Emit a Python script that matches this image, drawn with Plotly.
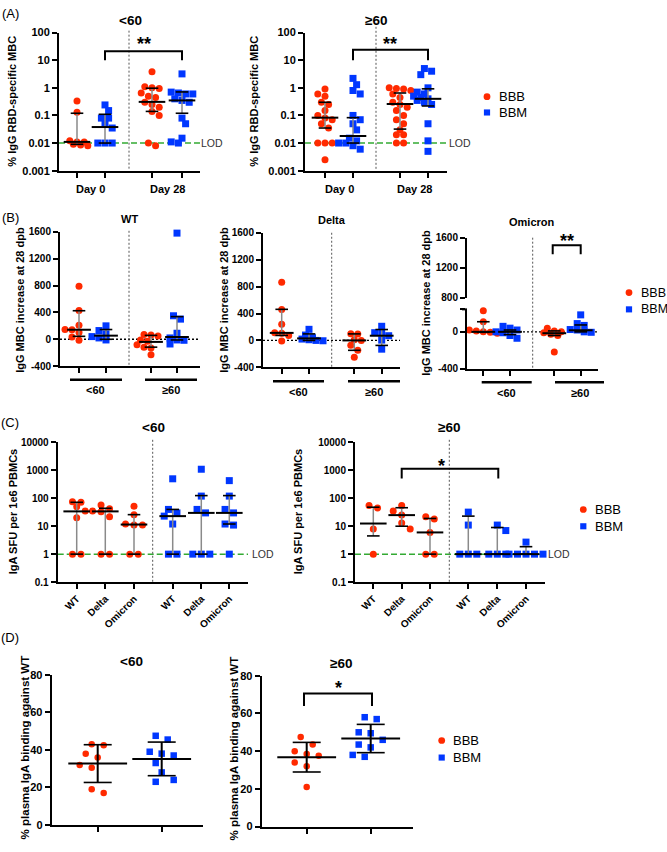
import math
import plotly.graph_objects as go

W, H = 667, 852
FONT = "Liberation Sans, Arial, Helvetica, sans-serif"
RED, BLUE, GREEN = "#FF2A00", "#0037FF", "#33AA33"

# ============================ DATA ============================
series_names = ["BBB", "BBM"]
age_groups = ["<60", "≥60"]

# (A) % IgG RBD-specific MBC  (order of stats: Day0 BBB, Day0 BBM, Day28 BBB, Day28 BBM)
A_days = ["Day 0", "Day 28"]
A_lt60_day0_BBB = [0.33, 0.13, 0.012, 0.011, 0.011, 0.009, 0.008, 0.0085]
A_lt60_day0_BBM = [0.24, 0.15, 0.08, 0.08, 0.05, 0.035, 0.01, 0.01, 0.01]
A_lt60_day28_BBB = [3.8, 1.1, 1.0, 0.95, 0.65, 0.5, 0.45, 0.3, 0.25, 0.2, 0.14, 0.1, 0.01, 0.008]
A_lt60_day28_BBM = [3.2, 0.7, 0.65, 0.6, 0.6, 0.4, 0.35, 0.3, 0.08, 0.05, 0.015, 0.011, 0.01]
A_lt60_median = [0.011, 0.038, 0.31, 0.35]
A_lt60_q1 = [0.009, 0.01, 0.14, 0.12]
A_lt60_q3 = [0.12, 0.11, 0.97, 0.71]

A_ge60_day0_BBB = [0.9, 0.6, 0.5, 0.3, 0.25, 0.15, 0.1, 0.08, 0.07, 0.05, 0.035, 0.01, 0.01, 0.01, 0.0025]
A_ge60_day0_BBM = [2.2, 1.3, 0.8, 0.6, 0.1, 0.07, 0.05, 0.03, 0.015, 0.012, 0.01, 0.01, 0.008, 0.006]
A_ge60_day28_BBB = [1.0, 0.95, 0.9, 0.8, 0.6, 0.45, 0.3, 0.25, 0.2, 0.15, 0.1, 0.07, 0.05, 0.03,
                    0.02, 0.02, 0.01, 0.01]
A_ge60_day28_BBM = [5.0, 4.0, 3.0, 1.0, 0.7, 0.6, 0.5, 0.45, 0.4, 0.35, 0.3, 0.25, 0.05, 0.012, 0.005]
A_ge60_median = [0.083, 0.018, 0.26, 0.4]
A_ge60_q1 = [0.035, 0.01, 0.032, 0.22]
A_ge60_q3 = [0.3, 0.083, 0.65, 0.92]

A_LOD = 0.01
A_yticks = [0.001, 0.01, 0.1, 1, 10, 100]
A_yticktext = ["0.001", "0.01", "0.1", "1", "10", "100"]

# (B) IgG MBC increase at 28 dpb (stats order: <60 BBB, <60 BBM, >=60 BBB, >=60 BBM)
B_variants = ["WT", "Delta", "Omicron"]
B_WT_lt60_BBB = [790, 430, 210, 145, 140, 100, 35, -15]
B_WT_lt60_BBM = [200, 130, 80, 40, 20, -10]
B_WT_ge60_BBB = [70, 65, 50, -10, -30, -80, -120, -130, -230]
B_WT_ge60_BBM = [1580, 350, 300, 90, 20, -10, -15, -70]
B_WT_median = [142, 54, -39, 34]
B_WT_q1 = [44, 0, -117, -10]
B_WT_q3 = [425, 145, 58, 337]

B_Delta_lt60_BBB = [865, 460, 240, 115, 105, 75, -10]
B_Delta_lt60_BBM = [165, 80, 40, 20, 10, 0, -5]
B_Delta_ge60_BBB = [100, 95, 10, 0, -70, -145, -250]
B_Delta_ge60_BBM = [210, 115, 110, 70, 5, -130]
B_Delta_median = [112, 30, 0, 70]
B_Delta_q1 = [74, 0, -147, -74]
B_Delta_q3 = [462, 97, 97, 162]

B_Omicron_lt60_BBB = [230, 110, 20, 10, 0, -5, -15]
B_Omicron_lt60_BBM = [60, 40, 20, 0, -10, -40, -70]
B_Omicron_ge60_BBB = [40, 10, 0, -10, -25, -40, -220]
B_Omicron_ge60_BBM = [185, 90, 70, 25, 20, 0, -5]
B_Omicron_median = [0, 0, -15, 17]
B_Omicron_q1 = [-5, -30, -40, 0]
B_Omicron_q3 = [110, 20, 10, 75]

B_yticks = [-400, 0, 400, 800, 1200, 1600]
B_omicron_lower_ticks = [-400, 0]
B_omicron_upper_ticks = [800, 1200, 1600]

# (C) IgA SFU per 1e6 PBMCs (stats order: BBB WT, Delta, Omicron, BBM WT, Delta, Omicron)
C_variants = ["WT", "Delta", "Omicron"]
C_lt60_BBB_WT = [75, 72, 50, 35, 20, 1, 1]
C_lt60_BBB_Delta = [57, 42, 35, 33, 22, 1, 1]
C_lt60_BBB_Omicron = [52, 26, 12, 11, 11, 1, 1]
C_lt60_BBM_WT = [500, 40, 30, 23, 12, 1, 1]
C_lt60_BBM_Delta = [1100, 120, 40, 30, 1, 1, 1]
C_lt60_BBM_Omicron = [430, 120, 40, 30, 12, 11, 1]
C_lt60_median = [34, 34, 11.5, 23, 30, 30]
C_lt60_q1 = [1, 1, 1, 1, 1, 12]
C_lt60_q3 = [72, 44, 26, 40, 125, 125]

C_ge60_BBB_WT = [55, 45, 8, 1]
C_ge60_BBB_Delta = [55, 35, 25, 13, 8]
C_ge60_BBB_Omicron = [22, 18, 6, 1, 1]
C_ge60_BBM_WT = [32, 11, 1, 1, 1]
C_ge60_BBM_Delta = [11, 7, 1, 1, 1]
C_ge60_BBM_Omicron = [2.7, 1, 1, 1, 1, 1]
C_ge60_median = [12.5, 25, 6, 1, 1, 1]
C_ge60_q1 = [4.5, 10, 1, 1, 1, 1]
C_ge60_q3 = [48, 46, 19, 23, 9, 1.85]

C_LOD = 1
C_yticks = [0.1, 1, 10, 100, 1000, 10000]
C_yticktext = ["0.1", "1", "10", "100", "1000", "10000"]

# (D) % plasma IgA binding against WT (mean, SD; order BBB, BBM)
D_lt60_BBB = [43, 42.5, 38, 36, 32, 30.5, 19, 17]
D_lt60_BBM = [47.5, 45.5, 39, 38, 37, 33, 28, 24, 23]
D_ge60_BBB = [47.5, 43.5, 40, 38.5, 37.5, 34, 32, 21]
D_ge60_BBM = [58, 57, 50, 49.5, 46, 43.5, 42, 38, 37]
D_lt60_mean = [32.7, 35.2]
D_lt60_sd = [10.05, 8.95]
D_ge60_mean = [36.8, 46.7]
D_ge60_sd = [7.85, 7.5]
D_yticks = [0, 20, 40, 60, 80]

# ============================ LAYOUT GEOMETRY (pixels) ============================
GEO = {
    "A1": dict(x=(59, 200), y=(27, 167), yr=(-3, 2), log=True, xt=(77, 105, 152, 182)),
    "A2": dict(x=(305, 447), y=(27, 167), yr=(-3, 2), log=True, xt=(325, 353, 400, 428)),
    "B1": dict(x=(60, 200), y=(229, 365.3), yr=(-400, 1600), log=False, xt=(79, 106, 151, 177)),
    "B2": dict(x=(263, 400), y=(230, 366.5), yr=(-400, 1600), log=False, xt=(281.7, 309, 354.3, 381.7)),
    "B3": dict(x=(467, 598), y=(307.7, 367.7), yr=(-400, 245), log=False, xt=(483.3, 510, 554.3, 580.7)),
    "B3u": dict(y=(235, 296), yr=(800, 1600), log=False),
    "C1": dict(x=(57.7, 248), y=(442.7, 584.3), yr=(-1, 4), log=True,
               xt=(76.7, 105.3, 134, 172.7, 201.3, 229.3)),
    "C2": dict(x=(355, 545), y=(442.7, 584.3), yr=(-1, 4), log=True,
               xt=(373.3, 401.7, 430, 468.3, 497.3, 526)),
    "D1": dict(x=(51.7, 203.3), y=(678.3, 830.7), yr=(0, 80), log=False, xt=(97.7, 161.7)),
    "D2": dict(x=(261.7, 412.7), y=(679.3, 832.3), yr=(0, 80), log=False, xt=(306.7, 370.7)),
}


def xn(i):
    return "x" if i == 1 else f"x{i}"


def yn(i):
    return "y" if i == 1 else f"y{i}"


def lk(p, i):
    return f"{p}axis" if i == 1 else f"{p}axis{i}"


def ymap(key, v):
    g = GEO[key]
    top, bot = g["y"]
    r0, r1 = g["yr"]
    f = math.log10(v) if g["log"] else v
    return bot - (f - r0) / (r1 - r0) * (bot - top)


def swarm(ypx, d, thr):
    """Deterministic scatter-dot arrangement: near-equal values share a centred row;
    each row is nudged sideways (half steps) to limit overlap with rows already placed."""
    order = sorted(range(len(ypx)), key=lambda i: ypx[i])
    rows = []
    for i in order:
        if rows and abs(ypx[i] - ypx[rows[-1][0]]) < thr * d:
            rows[-1].append(i)
        else:
            rows.append([i])
    off = [0.0] * len(ypx)
    placed = []
    shifts = [0, d / 2, -d / 2, d, -d]
    for row in rows:
        k = len(row)
        base = [(j - (k - 1) / 2) * d for j in range(k)]
        best, best_score = 0, -1
        for s in shifts:
            md = min([math.hypot(b + s - px_, ypx[i] - py_)
                      for b, i in zip(base, row) for px_, py_ in placed] or [1e9])
            if md >= 0.9 * d:
                best = s
                break
            if md > best_score + 0.5:
                best, best_score = s, md
        for b, i in zip(base, row):
            off[i] = b + best
            placed.append((b + best, ypx[i]))
    return off


fig = go.Figure()


def add_group(key, xi, yi, xc, vals, color, symbol, size, d, thr=0.8):
    ypx = [ymap(key, v) for v in vals]
    offs = swarm(ypx, d, thr)
    fig.add_trace(go.Scatter(
        x=[xc + o for o in offs], y=vals, mode="markers",
        marker=dict(color=color, symbol=symbol, size=size, line=dict(width=0)),
        xaxis=xn(xi), yaxis=yn(yi), hoverinfo="skip", cliponaxis=False, showlegend=False))


def add_stats(xi, yi, xs, center, lo, hi, wcolor, wwidth, capsize, medsize, medwidth):
    wx, wy = [], []
    for x, a, b in zip(xs, lo, hi):
        wx += [x, x, None]
        wy += [a, b, None]
    fig.add_trace(go.Scatter(x=wx, y=wy, mode="lines", line=dict(color=wcolor, width=wwidth),
                             xaxis=xn(xi), yaxis=yn(yi), hoverinfo="skip", showlegend=False))
    fig.add_trace(go.Scatter(x=list(xs) * 2, y=list(lo) + list(hi), mode="markers",
                             marker=dict(symbol="line-ew", size=capsize, color="black",
                                         line=dict(color="black", width=1.6)),
                             xaxis=xn(xi), yaxis=yn(yi), hoverinfo="skip", cliponaxis=False,
                             showlegend=False))
    fig.add_trace(go.Scatter(x=list(xs), y=list(center), mode="markers",
                             marker=dict(symbol="line-ew", size=medsize, color="black",
                                         line=dict(color="black", width=medwidth)),
                             xaxis=xn(xi), yaxis=yn(yi), hoverinfo="skip", cliponaxis=False,
                             showlegend=False))


def add_ref_line(key, xi, yi, value, color, width, dash):
    g = GEO[key]
    fig.add_trace(go.Scatter(x=list(g["x"]), y=[value, value], mode="lines",
                             line=dict(color=color, width=width, dash=dash),
                             xaxis=xn(xi), yaxis=yn(yi), hoverinfo="skip", showlegend=False,
                             cliponaxis=False))


COLORS = [RED, BLUE]
SYMBOLS = ["circle", "square"]

# ---------------- Panel A ----------------
for key, xi, groups, med, q1, q3 in [
    ("A1", 1, [A_lt60_day0_BBB, A_lt60_day0_BBM, A_lt60_day28_BBB, A_lt60_day28_BBM],
     A_lt60_median, A_lt60_q1, A_lt60_q3),
    ("A2", 2, [A_ge60_day0_BBB, A_ge60_day0_BBM, A_ge60_day28_BBB, A_ge60_day28_BBM],
     A_ge60_median, A_ge60_q1, A_ge60_q3),
]:
    add_ref_line(key, xi, xi, A_LOD, GREEN, 1.5, "6px,3px")
    for j, vals in enumerate(groups):
        add_group(key, xi, xi, GEO[key]["xt"][j], vals, COLORS[j % 2], SYMBOLS[j % 2], 7, 7.2, 0.45)
    add_stats(xi, xi, GEO[key]["xt"], med, q1, q3, "#8a8a8a", 1.5, 9, 19, 2)

# ---------------- Panel B ----------------
B_sets = [
    ("B1", 3, 3, [B_WT_lt60_BBB, B_WT_lt60_BBM, B_WT_ge60_BBB, B_WT_ge60_BBM], B_WT_median, B_WT_q1, B_WT_q3),
    ("B2", 4, 4, [B_Delta_lt60_BBB, B_Delta_lt60_BBM, B_Delta_ge60_BBB, B_Delta_ge60_BBM],
     B_Delta_median, B_Delta_q1, B_Delta_q3),
    ("B3", 5, 5, [B_Omicron_lt60_BBB, B_Omicron_lt60_BBM, B_Omicron_ge60_BBB, B_Omicron_ge60_BBM],
     B_Omicron_median, B_Omicron_q1, B_Omicron_q3),
]
for key, xi, yi, groups, med, q1, q3 in B_sets:
    add_ref_line(key, xi, yi, 0, "black", 1.3, "2px,2px")
    for j, vals in enumerate(groups):
        add_group(key, xi, yi, GEO[key]["xt"][j], vals, COLORS[j % 2], SYMBOLS[j % 2], 7, 7.0, 0.55)
    add_stats(xi, yi, GEO[key]["xt"], med, q1, q3, "#8a8a8a", 1.5, 9, 17, 2)

# upper segment of the broken Omicron axis (no marks, only the axis)
fig.add_trace(go.Scatter(x=[], y=[], mode="markers", xaxis="x5", yaxis="y6",
                         hoverinfo="skip", showlegend=False))

# ---------------- Panel C ----------------
for key, xi, yi, groups, med, q1, q3 in [
    ("C1", 6, 7, [C_lt60_BBB_WT, C_lt60_BBB_Delta, C_lt60_BBB_Omicron,
                  C_lt60_BBM_WT, C_lt60_BBM_Delta, C_lt60_BBM_Omicron], C_lt60_median, C_lt60_q1, C_lt60_q3),
    ("C2", 7, 8, [C_ge60_BBB_WT, C_ge60_BBB_Delta, C_ge60_BBB_Omicron,
                  C_ge60_BBM_WT, C_ge60_BBM_Delta, C_ge60_BBM_Omicron], C_ge60_median, C_ge60_q1, C_ge60_q3),
]:
    add_ref_line(key, xi, yi, C_LOD, GREEN, 1.5, "6px,3px")
    for j, vals in enumerate(groups):
        add_group(key, xi, yi, GEO[key]["xt"][j], vals, COLORS[j // 3], SYMBOLS[j // 3], 7, 8.5, 0.5)
    add_stats(xi, yi, GEO[key]["xt"], med, q1, q3, "#8a8a8a", 1.5, 9, 19, 2)

# ---------------- Panel D ----------------
for key, xi, yi, groups, mean, sd in [
    ("D1", 8, 9, [D_lt60_BBB, D_lt60_BBM], D_lt60_mean, D_lt60_sd),
    ("D2", 9, 10, [D_ge60_BBB, D_ge60_BBM], D_ge60_mean, D_ge60_sd),
]:
    for j, vals in enumerate(groups):
        add_group(key, xi, yi, GEO[key]["xt"][j], vals, COLORS[j], SYMBOLS[j], 6.5, 12, thr=0.75)
    lo = [m - s for m, s in zip(mean, sd)]
    hi = [m + s for m, s in zip(mean, sd)]
    add_stats(xi, yi, GEO[key]["xt"], mean, lo, hi, "black", 2, 20, 42, 2)

# ============================ AXES ============================
AXSTYLE = dict(showline=True, linecolor="black", linewidth=2, ticks="outside", ticklen=5,
               tickwidth=2, tickcolor="black", showgrid=False, zeroline=False, fixedrange=True)


def tfont(sz):
    return dict(family=FONT, size=sz, color="black", weight="bold")


layout_axes = {}


def make_x(key, xi, yi, ticktext=None, angle=None, fs=11):
    g = GEO[key]
    d = dict(domain=[g["x"][0] / W, g["x"][1] / W], range=list(g["x"]), anchor=yn(yi),
             tickmode="array", tickvals=list(g["xt"]),
             ticktext=ticktext if ticktext else [""] * len(g["xt"]), tickfont=tfont(fs), **AXSTYLE)
    if angle is not None:
        d["tickangle"] = angle
    layout_axes[lk("x", xi)] = d


def make_y(key, yi, xi, tickvals, ticktext, fs):
    g = GEO[key]
    d = dict(domain=[1 - g["y"][1] / H, 1 - g["y"][0] / H], range=list(g["yr"]),
             type="log" if g["log"] else "linear", anchor=xn(xi), tickmode="array",
             tickvals=tickvals, ticktext=ticktext, tickfont=tfont(fs), **AXSTYLE)
    layout_axes[lk("y", yi)] = d


make_x("A1", 1, 1); make_y("A1", 1, 1, A_yticks, A_yticktext, 11)
make_x("A2", 2, 2); make_y("A2", 2, 2, A_yticks, A_yticktext, 11)
make_x("B1", 3, 3); make_y("B1", 3, 3, B_yticks, [str(v) for v in B_yticks], 10)
make_x("B2", 4, 4); make_y("B2", 4, 4, B_yticks, [str(v) for v in B_yticks], 10)
make_x("B3", 5, 5)
make_y("B3", 5, 5, B_omicron_lower_ticks + [GEO["B3"]["yr"][1] - 1],
       [str(v) for v in B_omicron_lower_ticks] + [""], 10)
make_y("B3u", 6, 5, B_omicron_upper_ticks, [str(v) for v in B_omicron_upper_ticks], 10)
C_xlabels = C_variants * 2
make_x("C1", 6, 7, C_xlabels, -45, 10); make_y("C1", 7, 6, C_yticks, C_yticktext, 10)
make_x("C2", 7, 8, C_xlabels, -45, 10); make_y("C2", 8, 7, C_yticks, C_yticktext, 10)
make_x("D1", 8, 9); make_y("D1", 9, 8, D_yticks, [str(v) for v in D_yticks], 11)
make_x("D2", 9, 10); make_y("D2", 10, 9, D_yticks, [str(v) for v in D_yticks], 11)

# ============================ DECORATIONS ============================
shapes = []
annotations = []


def px(x):
    return x / W


def py(y):
    return 1 - y / H


def pline(x0, y0, x1, y1, color="black", width=1, dash="solid"):
    shapes.append(dict(type="line", xref="paper", yref="paper", x0=px(x0), y0=py(y0), x1=px(x1),
                       y1=py(y1), line=dict(color=color, width=width, dash=dash)))


def ann(text, x, y, size, bold=False, color="black", angle=0, xanchor="center"):
    annotations.append(dict(text=text, x=px(x), y=py(y), xref="paper", yref="paper", showarrow=False,
                            font=dict(family=FONT, size=size, color=color,
                                      weight="bold" if bold else "normal"),
                            textangle=angle, xanchor=xanchor, yanchor="middle"))


# dotted dividers
for x, y0, y1 in [(129, 25, 167), (376, 13, 167), (129, 228, 365), (331.7, 230, 366.5),
                  (532.7, 235, 367.7), (152.7, 440, 584), (449.3, 440, 584)]:
    pline(x, y0, x, y1, "#555555", 1, "2px,2px")

# lower segment top cap for broken axis
pline(462, 307.7, 467, 307.7, "black", 2)

# group bars (B)
B_bars = [(70, 122, 379), (145, 197, 379), (273, 324, 380.7), (348, 400, 380.7),
          (481.7, 531.7, 381.7), (555, 604, 381.7)]
for i, (x0, x1, y) in enumerate(B_bars):
    pline(x0, y, x1, y, "black", 2.5)
    ann(age_groups[i % 2], (x0 + x1) / 2, y + 10.5, 11, True)

# brackets + significance
for x0, x1, yt, yb in [(105, 182, 46, 55), (353, 428, 44.3, 55), (552.7, 580.7, 242.7, 251.7),
                       (401.7, 498.3, 469.3, 479.3), (304, 372, 697.3, 710)]:
    shapes.append(dict(type="path", xref="paper", yref="paper",
                       path=f"M {px(x0)},{py(yb)} L {px(x0)},{py(yt)} L {px(x1)},{py(yt)} L {px(x1)},{py(yb)}",
                       line=dict(color="black", width=2)))
for txt, x, y in [("**", 143.5, 39), ("**", 390, 39), ("**", 566.7, 238), ("*", 441.7, 467),
                  ("*", 338, 692)]:
    ann(txt, x, y, 18, True)

# LOD labels
for x, y in [(212, 139), (460, 139), (263, 556), (559, 556)]:
    ann("LOD", x, y, 10.5, False, "#333333")

# Day labels (A)
for x, i in [(91, 0), (167, 1), (339, 0), (414, 1)]:
    ann(A_days[i], x, 186, 11, True)

# titles
for t, x, y, s in [("<60", 130, 15, 13.5), ("≥60", 376, 15, 13.5),
                   ("WT", 129, 216, 11), ("Delta", 332, 217, 11), ("Omicron", 532, 219, 11),
                   ("<60", 153, 428, 13.5), ("≥60", 449, 428, 13.5),
                   ("<60", 131.7, 665, 13.5), ("≥60", 341, 667, 13.5)]:
    ann(t, x, y, s, True)

# panel letters
for t, y in [("(A)", 8), ("(B)", 215), ("(C)", 422), ("(D)", 641)]:
    ann(t, 10, y, 13, False)

# y titles
for t, x, y, s in [("% IgG RBD-specific MBC", 12, 97, 11), ("% IgG RBD-specific MBC", 254, 97, 11),
                   ("IgG MBC increase at 28 dpb", 20, 298, 11),
                   ("IgG MBC increase at 28 dpb", 224, 298, 11),
                   ("IgG MBC increase at 28 dpb", 426, 301, 11),
                   ("IgA SFU per 1e6 PBMCs", 12.5, 513, 11), ("IgA SFU per 1e6 PBMCs", 297.5, 513, 11),
                   ("% plasma IgA binding against WT", 25, 752, 11.5),
                   ("% plasma IgA binding against WT", 234, 753, 11.5)]:
    ann(t, x, y, s, True, angle=-90)

# legends
for mx, ys, fs in [(487, (92, 108), 13), (629, (290.7, 307.7), 12.5), (583.3, (510.7, 527.7), 13),
                   (441.7, (745, 762.3), 13)]:
    for j, y in enumerate(ys):
        r = 3.4 if j == 0 else 3.1
        shapes.append(dict(type="circle" if j == 0 else "rect", xref="paper", yref="paper",
                           x0=px(mx - r), x1=px(mx + r), y0=py(y + r), y1=py(y - r),
                           fillcolor=COLORS[j], line=dict(width=0)))
        ann(series_names[j], mx + 9.5, y, fs, False, xanchor="left")

fig.update_layout(
    width=W, height=H, margin=dict(l=0, r=0, t=0, b=0),
    paper_bgcolor="white", plot_bgcolor="rgba(0,0,0,0)",
    showlegend=False, shapes=shapes, annotations=annotations,
    font=dict(family=FONT, color="black"),
    **layout_axes,
)

fig.write_html("out.html", config={"displayModeBar": False},
               post_script="document.body.style.margin='0px';")
